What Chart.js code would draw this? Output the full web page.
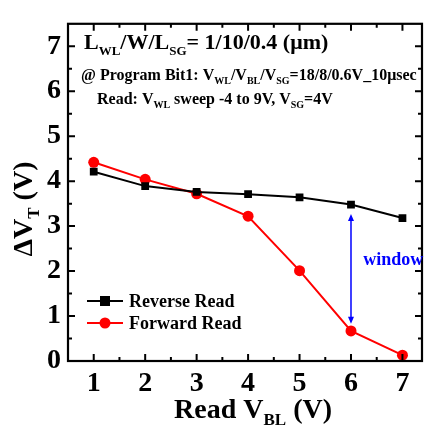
<!DOCTYPE html>
<html>
<head>
<meta charset="utf-8">
<script src="https://cdn.jsdelivr.net/npm/chart.js@4/dist/chart.umd.min.js"></script>
<style>
  body { margin: 0; background: #fff; }
  #wrap { width: 430px; height: 425px; }
</style>
</head>
<body>
<div id="wrap"><canvas id="myChart" width="430" height="425"></canvas></div>
<script>
const readVbl = [1, 2, 3, 4, 5, 6, 7];
const reverseRead = [4.21, 3.89, 3.76, 3.71, 3.64, 3.48, 3.18];
const forwardRead = [4.42, 4.04, 3.72, 3.22, 2.01, 0.67, 0.13];
const xTicks = [1, 2, 3, 4, 5, 6, 7];
const yTicks = [0, 1, 2, 3, 4, 5, 6, 7];
const windowAt = { x: 6, top: 3.27, bottom: 0.83, labelX: 6.82, labelY: 2.23 };

const serif = "'Liberation Serif', 'Times New Roman', serif";

function toPoints(xs, ys) {
  return xs.map((x, i) => ({ x: x, y: ys[i] }));
}

// draws text with subscripts, parts = [[text, isSub], ...]
function drawRich(ctx, parts, x, y, size, align) {
  const subSize = Math.round(size * 0.6);
  let total = 0;
  parts.forEach((p) => {
    ctx.font = "bold " + (p[1] ? subSize : size) + "px " + serif;
    total += ctx.measureText(p[0]).width;
  });
  let cx = align === "center" ? x - total / 2 : x;
  ctx.textAlign = "left";
  ctx.textBaseline = "alphabetic";
  parts.forEach((p) => {
    ctx.font = "bold " + (p[1] ? subSize : size) + "px " + serif;
    ctx.fillText(p[0], cx, p[1] ? y + size * 0.25 : y);
    cx += ctx.measureText(p[0]).width;
  });
}

const extras = {
  id: "extras",
  afterDraw(chart) {
    const ctx = chart.ctx;
    const a = chart.chartArea;
    const xs = chart.scales.x;
    const ys = chart.scales.y;
    ctx.save();

    // frame
    ctx.strokeStyle = "#000";
    ctx.lineWidth = 2.2;
    ctx.strokeRect(a.left, a.top, a.right - a.left, a.bottom - a.top);

    // inward ticks on all sides
    ctx.lineWidth = 2;
    ctx.beginPath();
    for (let v = 0.5; v <= 7.5; v += 0.5) {
      const px = xs.getPixelForValue(v);
      if (px <= a.left + 1 || px >= a.right - 1) continue;
      const len = Number.isInteger(v) ? 7 : 4;
      ctx.moveTo(px, a.bottom); ctx.lineTo(px, a.bottom - len);
      ctx.moveTo(px, a.top); ctx.lineTo(px, a.top + len);
    }
    for (let v = 0.5; v <= 7.5; v += 0.5) {
      const py = ys.getPixelForValue(v);
      if (py <= a.top + 1 || py >= a.bottom - 1) continue;
      const len = Number.isInteger(v) ? 7 : 4;
      ctx.moveTo(a.left, py); ctx.lineTo(a.left + len, py);
      ctx.moveTo(a.right, py); ctx.lineTo(a.right - len, py);
    }
    ctx.stroke();

    // window arrow
    const wx = xs.getPixelForValue(windowAt.x);
    const wt = ys.getPixelForValue(windowAt.top);
    const wb = ys.getPixelForValue(windowAt.bottom);
    ctx.strokeStyle = "#0000ff";
    ctx.fillStyle = "#0000ff";
    ctx.lineWidth = 1.5;
    ctx.beginPath();
    ctx.moveTo(wx, wt + 5); ctx.lineTo(wx, wb - 5);
    ctx.stroke();
    ctx.beginPath();
    ctx.moveTo(wx, wt); ctx.lineTo(wx - 3, wt + 7); ctx.lineTo(wx + 3, wt + 7); ctx.closePath();
    ctx.moveTo(wx, wb); ctx.lineTo(wx - 3, wb - 7); ctx.lineTo(wx + 3, wb - 7); ctx.closePath();
    ctx.fill();
    ctx.font = "bold 18px " + serif;
    ctx.textAlign = "center";
    ctx.textBaseline = "middle";
    ctx.fillText("window", xs.getPixelForValue(windowAt.labelX), ys.getPixelForValue(windowAt.labelY));

    // legend
    const rows = [
      { label: "Reverse Read", color: "#000", y: 301, shape: "rect" },
      { label: "Forward Read", color: "#ff0000", y: 323, shape: "circle" },
    ];
    rows.forEach((r) => {
      ctx.strokeStyle = r.color;
      ctx.fillStyle = r.color;
      ctx.lineWidth = 2;
      ctx.beginPath();
      ctx.moveTo(87, r.y); ctx.lineTo(123, r.y);
      ctx.stroke();
      ctx.beginPath();
      if (r.shape === "rect") ctx.rect(100, r.y - 5, 10, 10);
      else ctx.arc(105, r.y, 5.5, 0, Math.PI * 2);
      ctx.fill();
      ctx.fillStyle = "#000";
      ctx.font = "bold 18px " + serif;
      ctx.textAlign = "left";
      ctx.textBaseline = "middle";
      ctx.fillText(r.label, 129, r.y + 1);
    });

    // annotation text
    ctx.fillStyle = "#000";
    drawRich(ctx, [["L"], ["WL", 1], ["/W/L"], ["SG", 1], ["= 1/10/0.4 (\u03bcm)"]], 84, 49, 22, "left");
    drawRich(ctx, [["@ Program Bit1: V"], ["WL", 1], ["/V"], ["BL", 1], ["/V"], ["SG", 1], ["=18/8/0.6V_10\u03bcsec"]], 81, 80, 16, "left");
    drawRich(ctx, [["Read: V"], ["WL", 1], [" sweep -4 to 9V, V"], ["SG", 1], ["=4V"]], 97, 104, 16, "left");

    // axis titles
    drawRich(ctx, [["Read V"], ["BL", 1], [" (V)"]], 253, 418, 28, "center");
    ctx.translate(32, 209);
    ctx.rotate(-Math.PI / 2);
    drawRich(ctx, [["\u0394V"], ["T", 1], [" (V)"]], 0, 0, 28, "center");
    ctx.restore();
  },
};

const ctx = document.getElementById("myChart").getContext("2d");
const myChart = new Chart(ctx, {
  type: "line",
  data: {
    datasets: [
      {
        label: "Reverse Read",
        data: toPoints(readVbl, reverseRead),
        borderColor: "#000",
        backgroundColor: "#000",
        borderWidth: 2,
        pointStyle: "rect",
        pointRadius: 5.5,
        pointBorderWidth: 0,
      },
      {
        label: "Forward Read",
        data: toPoints(readVbl, forwardRead),
        borderColor: "#ff0000",
        backgroundColor: "#ff0000",
        borderWidth: 2,
        pointStyle: "circle",
        pointRadius: 5.5,
        pointBorderWidth: 0,
      },
    ],
  },
  options: {
    responsive: false,
    animation: false,
    layout: { padding: { left: 0, top: 15, right: 8, bottom: 0 } },
    plugins: { legend: { display: false }, tooltip: { enabled: false } },
    scales: {
      x: {
        type: "linear",
        min: 0.5,
        max: 7.38,
        grid: { display: false, drawTicks: false },
        border: { display: false },
        afterBuildTicks: (s) => { s.ticks = xTicks.map((v) => ({ value: v })); },
        afterFit: (s) => { s.height = 64; },
        ticks: {
          color: "#000",
          padding: 6,
          maxRotation: 0,
          font: { family: serif, size: 28, weight: "bold" },
        },
      },
      y: {
        min: 0,
        max: 7.5,
        grid: { display: false, drawTicks: false },
        border: { display: false },
        afterBuildTicks: (s) => { s.ticks = yTicks.map((v) => ({ value: v })); },
        afterFit: (s) => { s.width = 68; },
        ticks: {
          color: "#000",
          padding: 7,
          font: { family: serif, size: 28, weight: "bold" },
        },
      },
    },
  },
  plugins: [extras],
});
</script>
</body>
</html>
